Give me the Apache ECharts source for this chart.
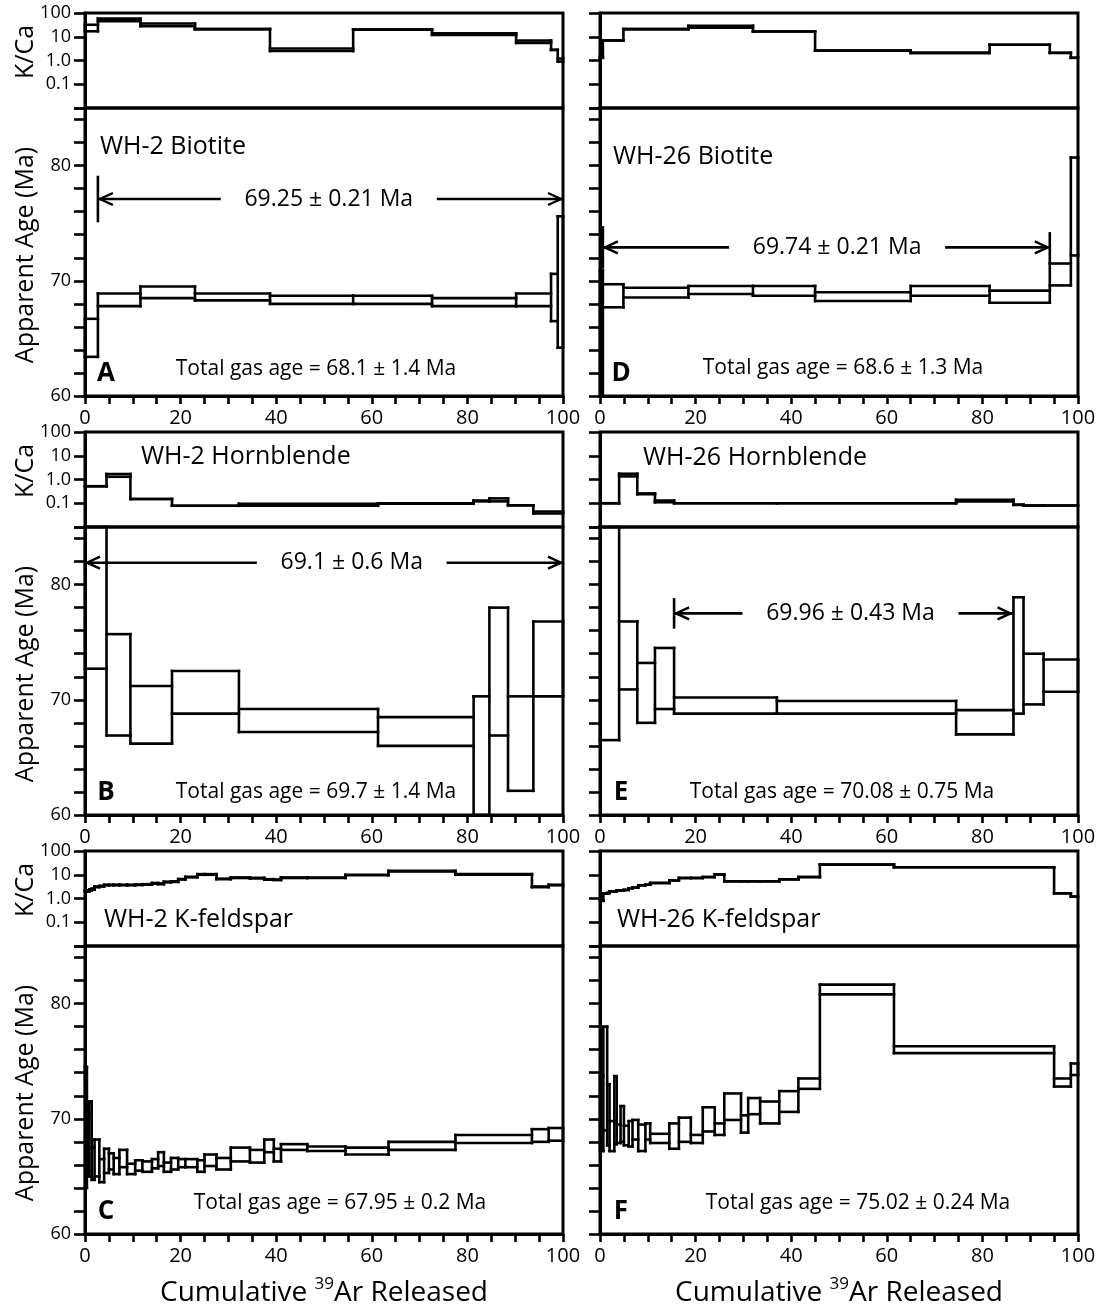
<!DOCTYPE html>
<html>
<head>
<meta charset="utf-8">
<title>Ar-Ar age spectra</title>
<script src="https://cdn.jsdelivr.net/npm/echarts@6/dist/echarts.min.js"></script>
<style>
  html, body { margin: 0; padding: 0; background: #fff; }
  #chart { width: 1097px; height: 1312px; }
</style>
</head>
<body>
<div id="chart"></div>
<script>
// ---- Step-heating results: cumulative 39Ar (%) step boundaries, 2-sigma age envelopes (Ma), K/Ca envelopes ----

// A: WH-2 biotite
const wh2BtCum   = [0, 2.7, 11.6, 23.0, 38.7, 56.1, 72.6, 90.2, 97.5, 98.9, 100];
const wh2BtAgeLo = [63.4, 67.8, 68.5, 68.3, 68.0, 68.0, 67.8, 67.8, 66.5, 64.2];
const wh2BtAgeHi = [66.7, 68.9, 69.5, 68.9, 68.7, 68.7, 68.5, 68.9, 70.6, 75.6];
const wh2BtKcaLo = [17, 45, 28, 21, 2.5, 20, 12, 5.5, 2.8, 0.9];
const wh2BtKcaHi = [32, 58, 36, 21, 3.2, 20, 14, 7.0, 2.8, 1.2];

// B: WH-2 hornblende
const wh2HbCum   = [0, 4.5, 9.5, 18.2, 32.2, 61.3, 81.3, 84.6, 88.5, 93.8, 100];
const wh2HbAgeLo = [72.7, 66.9, 66.2, 68.8, 67.2, 66.0, 57.0, 66.9, 62.1, 70.3];
const wh2HbAgeHi = [90.0, 75.7, 71.2, 72.5, 69.2, 68.5, 70.3, 78.0, 70.3, 76.8];
const wh2HbKcaLo = [0.52, 1.3, 0.15, 0.079, 0.078, 0.095, 0.12, 0.12, 0.082, 0.037];
const wh2HbKcaHi = [0.52, 1.7, 0.15, 0.079, 0.095, 0.100, 0.13, 0.16, 0.082, 0.045];

// C: WH-2 K-feldspar
const wh2KfCum   = [0, 0.4, 0.9, 1.4, 2.0, 3.0, 4.0, 5.0, 6.0, 7.2, 8.8, 10.5, 12.0, 14.0, 15.3, 16.5, 18.0,
                    19.5, 21.0, 23.5, 25.0, 27.5, 30.5, 34.5, 37.5, 39.5, 41.0, 46.5, 54.5, 63.5, 77.5, 93.5, 97.0, 100];
const wh2KfAgeLo = [64.0, 65.5, 65.0, 64.7, 65.0, 64.5, 65.3, 65.6, 65.2, 65.8, 65.2, 65.5, 65.4, 65.7, 65.9, 65.4,
                    65.6, 65.8, 65.8, 65.4, 65.9, 65.6, 66.3, 66.2, 67.1, 66.3, 67.3, 67.2, 66.9, 67.3, 67.9, 68.0, 68.1];
const wh2KfAgeHi = [74.5, 70.5, 71.5, 67.5, 68.2, 66.5, 67.4, 67.0, 66.6, 67.3, 66.1, 66.4, 66.3, 66.5, 67.1, 66.2,
                    66.6, 66.5, 66.5, 66.4, 66.9, 66.6, 67.5, 67.3, 68.2, 67.4, 67.8, 67.6, 67.5, 68.0, 68.6, 69.1, 69.2];
const wh2KfKcaLo = [2.0, 2.0, 2.2, 2.4, 3.0, 3.2, 3.6, 3.6, 3.6, 3.6, 3.6, 3.7, 3.8, 4.2, 4.0, 4.8,
                    5.0, 6.3, 7.8, 10, 10, 6.5, 7.3, 7.0, 6.2, 6.0, 7.3, 7.3, 9.5, 13.8, 10, 3.0, 3.6];
const wh2KfKcaHi = [2.2, 2.2, 2.4, 2.6, 3.2, 3.4, 3.8, 3.8, 3.8, 3.8, 3.8, 3.9, 4.0, 4.5, 4.3, 5.1,
                    5.3, 6.6, 8.2, 10.6, 10.6, 6.8, 7.7, 7.4, 6.5, 6.3, 7.7, 7.7, 10, 14.6, 10.6, 3.2, 3.8];

// D: WH-26 biotite
const wh26BtCum   = [0, 0.6, 4.9, 18.5, 32.0, 45.0, 65.0, 81.5, 94.1, 98.5, 100];
const wh26BtAgeLo = [55.0, 67.7, 68.55, 68.85, 68.7, 68.25, 68.7, 68.1, 69.6, 72.2];
const wh26BtAgeHi = [70.9, 69.7, 69.4, 69.55, 69.55, 69.0, 69.55, 69.15, 71.5, 80.7];
const wh26BtKcaLo = [1.3, 7.0, 21, 24, 16.6, 2.6, 2.1, 4.6, 2.1, 1.3];
const wh26BtKcaHi = [1.5, 7.0, 21, 29, 16.6, 2.6, 2.1, 4.6, 2.1, 1.3];

// E: WH-26 hornblende
const wh26HbCum   = [0, 4.0, 7.8, 11.5, 15.5, 37.0, 74.5, 86.5, 88.6, 92.8, 100];
const wh26HbAgeLo = [66.5, 70.9, 68.0, 69.2, 68.8, 68.8, 67.0, 68.8, 69.6, 70.7];
const wh26HbAgeHi = [90.0, 76.8, 73.2, 74.5, 70.2, 69.9, 69.1, 78.9, 74.0, 73.5];
const wh26HbKcaLo = [0.10, 1.35, 0.24, 0.11, 0.10, 0.10, 0.12, 0.085, 0.08, 0.08];
const wh26HbKcaHi = [0.10, 1.75, 0.26, 0.13, 0.10, 0.10, 0.14, 0.088, 0.08, 0.08];

// F: WH-26 K-feldspar
const wh26KfCum   = [0, 0.7, 1.5, 2.0, 3.0, 3.5, 4.3, 5.0, 6.0, 6.8, 8.0, 9.5, 10.5, 14.5, 16.5, 19.0,
                     21.5, 24.0, 26.0, 29.5, 31.0, 33.5, 37.5, 41.5, 46.0, 61.5, 95.0, 98.5, 100];
const wh26KfAgeLo = [67.2, 69.0, 67.7, 67.2, 67.8, 67.9, 68.0, 67.7, 67.6, 68.2, 67.2, 68.2, 67.9, 67.4,
                     68.0, 67.9, 68.9, 68.6, 69.9, 68.8, 70.4, 69.6, 70.6, 72.6, 80.8, 75.7, 72.8, 73.8];
const wh26KfAgeHi = [73.7, 78.0, 73.0, 69.8, 73.7, 69.5, 71.1, 69.4, 69.8, 69.9, 69.5, 69.6, 68.7, 69.6,
                     70.1, 68.6, 71.0, 69.6, 72.2, 70.3, 71.8, 71.5, 72.4, 73.5, 81.65, 76.3, 73.5, 74.8];
const wh26KfKcaLo = [0.8, 1.6, 1.7, 2.0, 2.0, 2.2, 2.2, 2.3, 2.7, 2.9, 3.6, 3.8, 4.5, 5.8,
                     7.3, 7.3, 8.0, 10.3, 5.3, 5.3, 5.3, 5.3, 6.4, 8.0, 26.6, 20.7, 1.66, 1.2];
const wh26KfKcaHi = [0.8, 1.6, 1.7, 2.0, 2.0, 2.2, 2.2, 2.3, 2.7, 2.9, 3.6, 3.8, 4.5, 5.8,
                     7.3, 7.3, 8.0, 10.3, 5.3, 5.3, 5.3, 5.3, 6.4, 8.0, 26.6, 20.7, 1.66, 1.2];

// Plateau brackets: [start %, end %, arrow level (Ma), label position %]
const plateauA = [2.7, 100, 77.1, 51.0];
const plateauB = [0, 100, 81.9, 55.8];
const plateauD = [0.6, 94.1, 72.9, 49.6];
const plateauE = [15.5, 86.3, 77.5, 52.4];

const sampleNames = ['WH-2 Biotite', 'WH-2 Hornblende', 'WH-2 K-feldspar',
                     'WH-26 Biotite', 'WH-26 Hornblende', 'WH-26 K-feldspar'];
const panelLetters = ['A', 'B', 'C', 'D', 'E', 'F'];
const totalGasLabels = ['Total gas age = 68.1 ± 1.4 Ma', 'Total gas age = 69.7 ± 1.4 Ma',
                        'Total gas age = 67.95 ± 0.2 Ma', 'Total gas age = 68.6 ± 1.3 Ma',
                        'Total gas age = 70.08 ± 0.75 Ma', 'Total gas age = 75.02 ± 0.24 Ma'];
const plateauLabels = ['69.25 ± 0.21 Ma', '69.1 ± 0.6 Ma', '69.74 ± 0.21 Ma', '69.96 ± 0.43 Ma'];

// ---- Layout ----
const FONT = '"Open Sans", "Noto Sans", sans-serif';
const COL_LEFT = [85, 600];
const ROW_TOP = [13, 432, 851];
const PLOT_W = 478, KCA_H = 95, AGE_H = 288;
const LW = 2.6;

const ctx2d = document.createElement('canvas').getContext('2d');
function textWidth(s, font) { ctx2d.font = font; return ctx2d.measureText(s).width; }

const panels = [
  { col: 0, row: 0, cum: wh2BtCum, lo: wh2BtAgeLo, hi: wh2BtAgeHi, klo: wh2BtKcaLo, khi: wh2BtKcaHi,
    plateau: plateauA, plabel: plateauLabels[0], bars: [22, 0],
    titleOff: [15, 134], gasOff: [231, 356] },
  { col: 0, row: 1, cum: wh2HbCum, lo: wh2HbAgeLo, hi: wh2HbAgeHi, klo: wh2HbKcaLo, khi: wh2HbKcaHi,
    plateau: plateauB, plabel: plateauLabels[1], bars: [0, 0],
    titleOff: [56, 25], gasOff: [231, 360] },
  { col: 0, row: 2, cum: wh2KfCum, lo: wh2KfAgeLo, hi: wh2KfAgeHi, klo: wh2KfKcaLo, khi: wh2KfKcaHi,
    plateau: null, titleOff: [19, 69], gasOff: [255, 352] },
  { col: 1, row: 0, cum: wh26BtCum, lo: wh26BtAgeLo, hi: wh26BtAgeHi, klo: wh26BtKcaLo, khi: wh26BtKcaHi,
    plateau: plateauD, plabel: plateauLabels[2], bars: [20, 14],
    titleOff: [13, 144], gasOff: [243, 355] },
  { col: 1, row: 1, cum: wh26HbCum, lo: wh26HbAgeLo, hi: wh26HbAgeHi, klo: wh26HbKcaLo, khi: wh26HbKcaHi,
    plateau: plateauE, plabel: plateauLabels[3], bars: [14, 0],
    titleOff: [43, 26], gasOff: [242, 360] },
  { col: 1, row: 2, cum: wh26KfCum, lo: wh26KfAgeLo, hi: wh26KfAgeHi, klo: wh26KfKcaLo, khi: wh26KfKcaHi,
    plateau: null, titleOff: [17, 69], gasOff: [258, 352] }
];

function stepData(cum, lo, hi) {
  const out = [];
  for (let i = 0; i < lo.length; i++) {
    const pl = i ? lo[i - 1] : lo[i];
    const ph = i ? hi[i - 1] : hi[i];
    out.push([cum[i], cum[i + 1], lo[i], hi[i], pl, ph, i === lo.length - 1 ? 1 : 0]);
  }
  return out;
}

function lineEl(x1, y1, x2, y2, w) {
  return { type: 'line', shape: { x1, y1, x2, y2 },
           style: { stroke: '#000', lineWidth: w || LW, lineCap: 'square', fill: null } };
}

// Each heating step: lower and upper envelope lines, joined by a riser at the step's start
function renderSteps(params, api) {
  const cs = params.coordSys;
  const top = cs.y, bot = cs.y + cs.height;
  const x0 = api.value(0), x1 = api.value(1);
  const lo = api.value(2), hi = api.value(3), pl = api.value(4), ph = api.value(5), last = api.value(6);
  const cy = v => Math.max(top, Math.min(bot, api.coord([x0, v])[1]));
  const X0 = api.coord([x0, lo])[0], X1 = api.coord([x1, lo])[0];
  const yLo = cy(lo), yHi = cy(hi);
  const vTop = cy(Math.max(hi, ph)), vBot = cy(Math.min(lo, pl));
  const ch = [lineEl(X0, yLo, X1, yLo), lineEl(X0, yHi, X1, yHi), lineEl(X0, vBot, X0, vTop)];
  if (last) ch.push(lineEl(X1, yLo, X1, yHi));
  return { type: 'group', children: ch };
}

function makePlateauRenderer(label, bars) {
  const font = '23px ' + FONT;
  return function (params, api) {
    const s = api.value(0), e = api.value(1), lvl = api.value(2), lx = api.value(3);
    const pS = api.coord([s, lvl]), pE = api.coord([e, lvl]), pT = api.coord([lx, lvl]);
    const y = pS[1];
    const half = textWidth(label, font) / 2 + 25;
    const ch = [
      lineEl(pS[0] + 1, y, pT[0] - half, y, 2.6),
      lineEl(pT[0] + half, y, pE[0] - 1, y, 2.6),
      { type: 'polyline', shape: { points: [[pS[0] + 15, y - 6], [pS[0] + 2, y], [pS[0] + 15, y + 6]] },
        style: { stroke: '#000', lineWidth: 2.4, fill: null } },
      { type: 'polyline', shape: { points: [[pE[0] - 15, y - 6], [pE[0] - 2, y], [pE[0] - 15, y + 6]] },
        style: { stroke: '#000', lineWidth: 2.4, fill: null } },
      { type: 'text', x: pT[0], y: y,
        style: { text: label, font, fill: '#000', align: 'center', verticalAlign: 'middle',
                 textAlign: 'center', textVerticalAlign: 'middle' } }
    ];
    if (bars[0]) ch.push(lineEl(pS[0], y - bars[0], pS[0], y + bars[0], 2.6));
    if (bars[1]) ch.push(lineEl(pE[0], y - bars[1], pE[0], y + bars[1], 2.6));
    return { type: 'group', children: ch };
  };
}

const grid = [], xAxis = [], yAxis = [], series = [], graphic = [];

function txt(text, x, y, font, align, rotation) {
  return { type: 'text', x, y, rotation: rotation || 0, silent: true,
           style: { text, font, fill: '#000', align: align || 'center', verticalAlign: 'middle',
                    textAlign: align || 'center', textVerticalAlign: 'middle' } };
}

const decadeLabel = { '2': '100', '1': '10', '0': '1.0', '-1': '0.1' };

panels.forEach((p, i) => {
  const left = COL_LEFT[p.col], top = ROW_TOP[p.row];
  const showLabels = p.col === 0;
  const kg = grid.length;
  grid.push({ left, top, width: PLOT_W, height: KCA_H, show: true, borderColor: '#000', borderWidth: 3,
              containLabel: false, outerBoundsMode: 'none' });
  grid.push({ left, top: top + KCA_H, width: PLOT_W, height: AGE_H, show: true, borderColor: '#000',
              borderWidth: 3, containLabel: false, outerBoundsMode: 'none' });
  const ag = kg + 1;

  // K/Ca panel axes
  xAxis.push({ gridIndex: kg, type: 'value', min: 0, max: 100, interval: 5,
               axisLine: { show: false }, axisTick: { show: false }, axisLabel: { show: false },
               splitLine: { show: false } });
  yAxis.push({ gridIndex: kg, type: 'log', logBase: 10, min: 0.01, max: 100,
               axisLine: { show: true, lineStyle: { color: '#000', width: 3 } },
               axisTick: { show: true, length: 11, lineStyle: { color: '#000', width: 2.6 } },
               minorTick: { show: false },
               axisLabel: { show: showLabels, color: '#000', fontSize: 18, fontFamily: FONT, margin: 14,
                            formatter: v => decadeLabel[String(Math.round(Math.log10(v)))] || '' },
               splitLine: { show: false } });
  // Age panel axes
  xAxis.push({ gridIndex: ag, type: 'value', min: 0, max: 100, interval: 5,
               axisLine: { show: true, lineStyle: { color: '#000', width: 3 } },
               axisTick: { show: true, length: 8, lineStyle: { color: '#000', width: 2.6 } },
               axisLabel: { color: '#000', fontSize: 20, fontFamily: FONT, margin: 12,
                            formatter: v => (v % 20 === 0 ? String(v) : '') },
               splitLine: { show: false } });
  yAxis.push({ gridIndex: ag, type: 'value', min: 60, max: 85, interval: 2,
               axisLine: { show: true, lineStyle: { color: '#000', width: 3 } },
               axisTick: { show: true, length: 11, lineStyle: { color: '#000', width: 2.6 } },
               axisLabel: { show: showLabels, color: '#000', fontSize: 18, fontFamily: FONT, margin: 14,
                            formatter: v => (v % 10 === 0 && v < 85 ? String(v) : '') },
               splitLine: { show: false } });

  series.push({ type: 'custom', xAxisIndex: kg, yAxisIndex: kg, renderItem: renderSteps,
                encode: { x: [0, 1], y: [2, 3] }, data: stepData(p.cum, p.klo, p.khi), silent: true });
  series.push({ type: 'custom', xAxisIndex: ag, yAxisIndex: ag, renderItem: renderSteps,
                encode: { x: [0, 1], y: [2, 3] }, data: stepData(p.cum, p.lo, p.hi), silent: true });
  if (p.plateau) {
    series.push({ type: 'custom', xAxisIndex: ag, yAxisIndex: ag,
                  renderItem: makePlateauRenderer(p.plabel, p.bars),
                  encode: { x: [0, 1], y: 2 }, data: [p.plateau], silent: true });
  }

  // Panel texts
  const nameIdx = p.col * 3 + p.row;
  graphic.push(txt(sampleNames[nameIdx], left + p.titleOff[0], top + p.titleOff[1], '25px ' + FONT, 'left'));
  graphic.push(txt(totalGasLabels[nameIdx], left + p.gasOff[0], top + p.gasOff[1], '21px ' + FONT));
  graphic.push(txt(panelLetters[nameIdx], left + 21, top + 361, 'bold 26px ' + FONT));

  if (p.col === 0) {
    graphic.push(txt('K/Ca', 26, top + 39, '25px ' + FONT, 'center', Math.PI / 2));
    graphic.push(txt('Apparent Age (Ma)', 26, top + 242, '25px ' + FONT, 'center', Math.PI / 2));
  }
});

// Bottom axis titles with superscript mass number
COL_LEFT.forEach(left => {
  const fMain = '28px ' + FONT, fSup = '17px ' + FONT;
  const a = 'Cumulative ', b = '39', c = 'Ar Released';
  const wa = textWidth(a, fMain), wb = textWidth(b, fSup), wc = textWidth(c, fMain);
  const total = wa + wb + wc;
  const x0 = left + PLOT_W / 2 - total / 2;
  const y = 1293;
  graphic.push(txt(a, x0, y, fMain, 'left'));
  graphic.push(txt(b, x0 + wa, y - 9, fSup, 'left'));
  graphic.push(txt(c, x0 + wa + wb, y, fMain, 'left'));
});

const chart = echarts.init(document.getElementById('chart'), null, { renderer: 'canvas' });
chart.setOption({
  animation: false,
  backgroundColor: '#fff',
  textStyle: { fontFamily: FONT, color: '#000' },
  grid, xAxis, yAxis, series, graphic
});
</script>
</body>
</html>
